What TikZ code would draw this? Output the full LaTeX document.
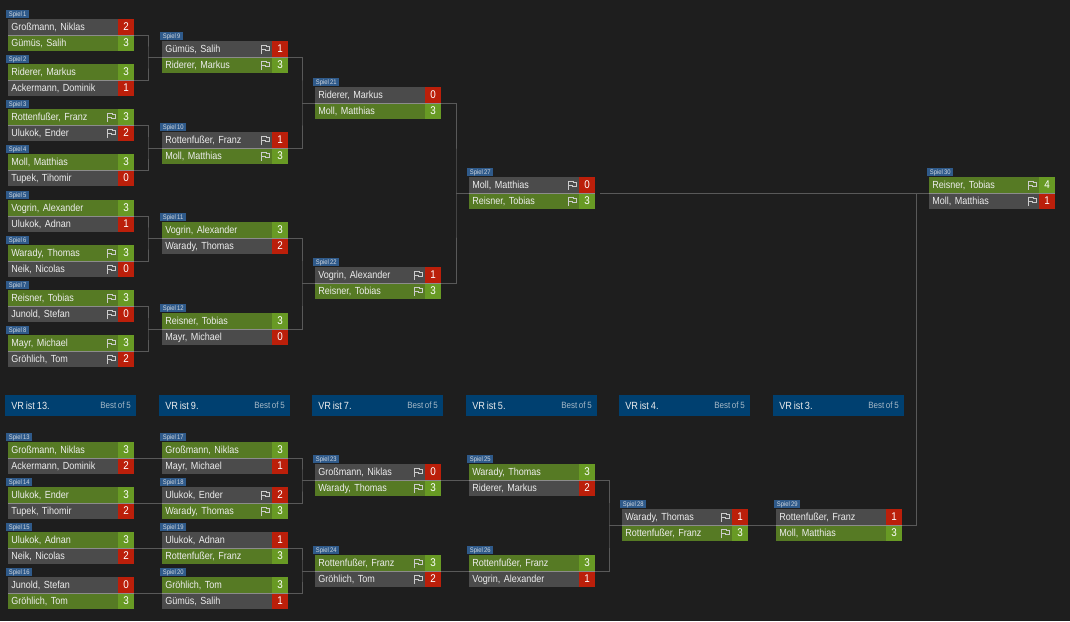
\documentclass[tikz,border=0pt]{standalone}
\usepackage{fontspec}
\setmainfont[FakeStretch=0.88,WordSpace=0.75]{Liberation Sans}
\definecolor{bgc}{HTML}{1E1E1E}
\definecolor{greyrow}{HTML}{4B4B4B}
\definecolor{greenrow}{HTML}{567A24}
\definecolor{greenscore}{HTML}{689A24}
\definecolor{redscore}{HTML}{BB1F0A}
\definecolor{tagc}{HTML}{2F5A8A}
\definecolor{headc}{HTML}{004070}
\definecolor{sepc}{HTML}{8C8C8C}
\definecolor{linec}{HTML}{595959}
\definecolor{txtc}{HTML}{EDEDED}
\tikzset{
  rowbox/.style={draw=none,inner xsep=2.25pt,inner ysep=0pt,minimum height=12pt,text width=77.625pt,align=left,
    text height=6.3pt,text depth=1.1pt,font=\fontsize{7.7pt}{8pt}\selectfont,text=txtc,anchor=north west},
  scorebox/.style={draw=none,inner sep=0pt,minimum height=12pt,minimum width=12.375pt,
    text height=5.4pt,text depth=0pt,font=\fontsize{8.4pt}{8pt}\selectfont,text=white,anchor=north west},
  tagbox/.style={fill=tagc,inner xsep=2pt,inner ysep=0pt,minimum height=6.6pt,text height=3.6pt,text depth=0.6pt,
    font=\fontsize{5pt}{5pt}\selectfont,text=txtc!85!tagc,anchor=south west},
  link/.style={draw=linec,line width=0.75pt},
  flagline/.style={draw=txtc!70!gray,line width=0.45pt,line join=miter},
  headbox/.style={fill=headc,inner sep=0pt,minimum width=98.25pt,minimum height=15.75pt,anchor=north west},
  headl/.style={font=\fontsize{7.8pt}{8pt}\selectfont,text=txtc,inner sep=0pt,anchor=west},
  headr/.style={font=\fontsize{6.8pt}{7pt}\selectfont,text=txtc!70!headc,inner sep=0pt,anchor=east},
  frame/.style={inner sep=0pt,minimum width=94.5pt,minimum height=24pt}
}
\newcommand\flagmark[2]{\draw[flagline,shift={(#1,#2)}] (0,8.5)--(0,0.3)--(5,0.3)--(5,1.5)--(8,1.5)--(8,5.7)--(4,5.7)--(4,4.7)--(0,4.7);}
\newcommand\playerrow[8]{%
  \node[rowbox,fill=#7] (#1) at (#2,#3) {#4};
  \node[scorebox,fill=#8] (#1s) at ($(#2,#3)+(109.5,0)$) {#5};
  \ifnum#6=1 \flagmark{\the\numexpr#2+99\relax}{\the\numexpr#3+4\relax}\fi
}
\newcommand\match[8]{%
  \node[frame] (m#1) at ($(#2,#3)+(63,0)$) {};
  \ifnum#5>#7\relax
    \playerrow{m#1a}{#2}{\the\numexpr#3-16\relax}{#4}{#5}{#8}{greenrow}{greenscore}
    \playerrow{m#1b}{#2}{#3}{#6}{#7}{#8}{greyrow}{redscore}
  \else
    \playerrow{m#1a}{#2}{\the\numexpr#3-16\relax}{#4}{#5}{#8}{greyrow}{redscore}
    \playerrow{m#1b}{#2}{#3}{#6}{#7}{#8}{greenrow}{greenscore}
  \fi
  \draw[draw=sepc,line width=0.6pt] (m#1a.south west) -- ++(126,0);
  \node[tagbox] (t#1) at ($(#2,#3)+(-2,-16.3)$) {Spiel #1};
}
\newcommand\head[3]{%
  \node[headbox] (h#1) at (#1,395) {};
  \node[headl] (h#1l) at ($(#1,405.5)+(6,0)$) {#2};
  \node[headr] (h#1r) at ($(#1,405.5)+(126,0)$) {#3};
}
\usetikzlibrary{calc}
\begin{document}
\begin{tikzpicture}[x=0.75pt,y=-0.75pt]
\path[fill=bgc,use as bounding box] (0,0) rectangle (1070,621);
\match{1}{8}{35}{Großmann, Niklas}{2}{Gümüs, Salih}{3}{0}
\match{2}{8}{80}{Riderer, Markus}{3}{Ackermann, Dominik}{1}{0}
\match{3}{8}{125}{Rottenfußer, Franz}{3}{Ulukok, Ender}{2}{1}
\match{4}{8}{170}{Moll, Matthias}{3}{Tupek, Tihomir}{0}{0}
\match{5}{8}{216}{Vogrin, Alexander}{3}{Ulukok, Adnan}{1}{0}
\match{6}{8}{261}{Warady, Thomas}{3}{Neik, Nicolas}{0}{1}
\match{7}{8}{306}{Reisner, Tobias}{3}{Junold, Stefan}{0}{1}
\match{8}{8}{351}{Mayr, Michael}{3}{Gröhlich, Tom}{2}{1}
\match{9}{162}{57}{Gümüs, Salih}{1}{Riderer, Markus}{3}{1}
\match{10}{162}{148}{Rottenfußer, Franz}{1}{Moll, Matthias}{3}{1}
\match{11}{162}{238}{Vogrin, Alexander}{3}{Warady, Thomas}{2}{0}
\match{12}{162}{329}{Reisner, Tobias}{3}{Mayr, Michael}{0}{0}
\match{21}{315}{103}{Riderer, Markus}{0}{Moll, Matthias}{3}{0}
\match{22}{315}{283}{Vogrin, Alexander}{1}{Reisner, Tobias}{3}{1}
\match{27}{469}{193}{Moll, Matthias}{0}{Reisner, Tobias}{3}{1}
\match{30}{929}{193}{Reisner, Tobias}{4}{Moll, Matthias}{1}{1}
\head{5}{VR ist 13.}{Best of 5}
\head{159}{VR ist 9.}{Best of 5}
\head{312}{VR ist 7.}{Best of 5}
\head{466}{VR ist 5.}{Best of 5}
\head{619}{VR ist 4.}{Best of 5}
\head{773}{VR ist 3.}{Best of 5}
\match{13}{8}{458}{Großmann, Niklas}{3}{Ackermann, Dominik}{2}{0}
\match{14}{8}{503}{Ulukok, Ender}{3}{Tupek, Tihomir}{2}{0}
\match{15}{8}{548}{Ulukok, Adnan}{3}{Neik, Nicolas}{2}{0}
\match{16}{8}{593}{Junold, Stefan}{0}{Gröhlich, Tom}{3}{0}
\match{17}{162}{458}{Großmann, Niklas}{3}{Mayr, Michael}{1}{0}
\match{18}{162}{503}{Ulukok, Ender}{2}{Warady, Thomas}{3}{1}
\match{19}{162}{548}{Ulukok, Adnan}{1}{Rottenfußer, Franz}{3}{0}
\match{20}{162}{593}{Gröhlich, Tom}{3}{Gümüs, Salih}{1}{0}
\match{23}{315}{480}{Großmann, Niklas}{0}{Warady, Thomas}{3}{1}
\match{24}{315}{571}{Rottenfußer, Franz}{3}{Gröhlich, Tom}{2}{1}
\match{25}{469}{480}{Warady, Thomas}{3}{Riderer, Markus}{2}{0}
\match{26}{469}{571}{Rottenfußer, Franz}{3}{Vogrin, Alexander}{1}{0}
\match{28}{622}{525}{Warady, Thomas}{1}{Rottenfußer, Franz}{3}{1}
\match{29}{776}{525}{Rottenfußer, Franz}{1}{Moll, Matthias}{3}{0}
\coordinate (j1) at (148,57);
\coordinate (j2) at (148,148);
\coordinate (j3) at (148,238);
\coordinate (j4) at (148,329);
\coordinate (j5) at (302,103);
\coordinate (j6) at (302,283);
\coordinate (j7) at (456,193);
\coordinate (j8) at (302,480);
\coordinate (j9) at (302,571);
\coordinate (j10) at (609,525);
\coordinate (j11) at (916,193);
\draw[link] (m1.east) -| (j1) |- (m2.east) (j1) -- (m9.west);
\draw[link] (m3.east) -| (j2) |- (m4.east) (j2) -- (m10.west);
\draw[link] (m5.east) -| (j3) |- (m6.east) (j3) -- (m11.west);
\draw[link] (m7.east) -| (j4) |- (m8.east) (j4) -- (m12.west);
\draw[link] (m9.east) -| (j5) |- (m10.east) (j5) -- (m21.west);
\draw[link] (m11.east) -| (j6) |- (m12.east) (j6) -- (m22.west);
\draw[link] (m21.east) -| (j7) |- (m22.east) (j7) -- (m27.west);
\draw[link] ([xshift=3.75pt]m27.east) -- (m30.west);
\draw[link] (m29.east) -| (j11);
\draw[link] (m13.east) -- (m17.west);
\draw[link] (m14.east) -- (m18.west);
\draw[link] (m15.east) -- (m19.west);
\draw[link] (m16.east) -- (m20.west);
\draw[link] (m17.east) -| (j8) |- (m18.east) (j8) -- (m23.west);
\draw[link] (m19.east) -| (j9) |- (m20.east) (j9) -- (m24.west);
\draw[link] (m23.east) -- (m25.west);
\draw[link] (m24.east) -- (m26.west);
\draw[link] (m25.east) -| (j10) |- (m26.east) (j10) -- (m28.west);
\draw[link] (m28.east) -- (m29.west);
\end{tikzpicture}
\end{document}
